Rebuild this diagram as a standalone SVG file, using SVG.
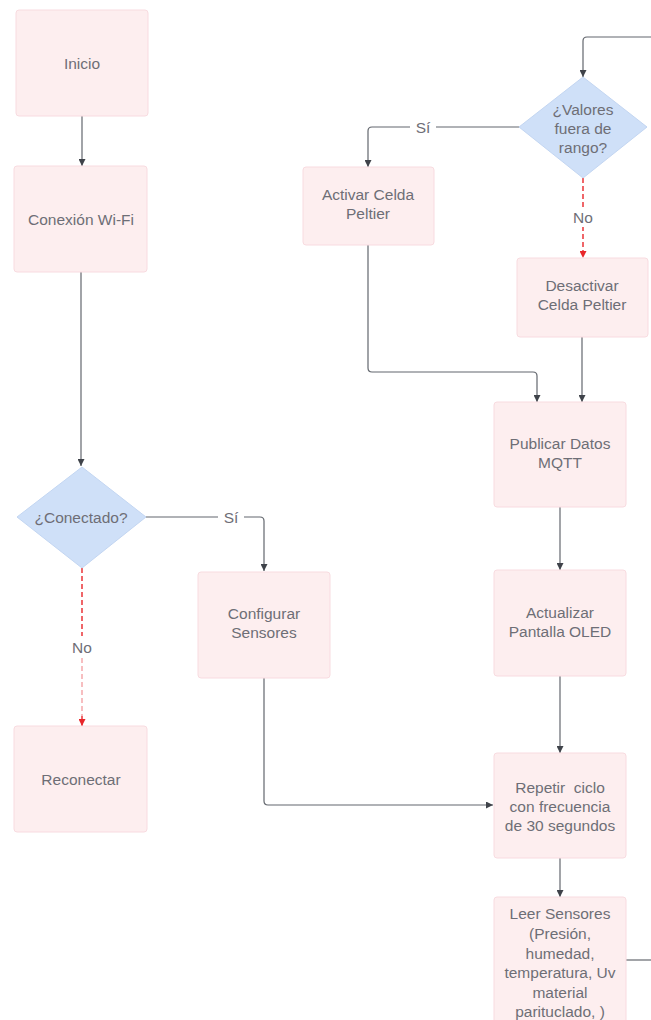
<svg xmlns="http://www.w3.org/2000/svg" width="651" height="1020" viewBox="0 0 651 1020">
  <style>
    .box { fill: #fdeeef; stroke: #f8dbe0; stroke-width: 1; }
    .dec { fill: #cfe0f8; stroke: #c3d6f2; stroke-width: 1; }
    .t { font-family: "Liberation Sans", Arial, sans-serif; font-size: 15.5px; fill: #6e6e76; text-anchor: middle; dominant-baseline: central; }
    .lbl { font-family: "Liberation Sans", Arial, sans-serif; font-size: 15.5px; fill: #6e6e76; text-anchor: middle; dominant-baseline: central; }
    .c { fill: none; stroke: #63676e; stroke-width: 1.2; }
    .no { fill: none; stroke: #e8262a; stroke-width: 1.4; stroke-dasharray: 5 3; }
    .nofade { fill: none; stroke: #f4a3a6; stroke-width: 1.4; stroke-dasharray: 5 3; }
  </style>
  <defs>
    <marker id="ah" viewBox="0 0 10 10" refX="10" refY="5" markerWidth="7" markerHeight="7" markerUnits="userSpaceOnUse" orient="auto">
      <path d="M0,0 L10,5 L0,10 z" fill="#3f434a"/>
    </marker>
    <marker id="ahr" viewBox="0 0 10 10" refX="10" refY="5" markerWidth="7" markerHeight="7" markerUnits="userSpaceOnUse" orient="auto">
      <path d="M0,0 L10,5 L0,10 z" fill="#e8262a"/>
    </marker>
  </defs>
  <rect width="651" height="1020" fill="#ffffff"/>

  <g id="connectors">
    <!-- left column -->
    <path class="c" d="M82,116 V166" marker-end="url(#ah)"/>
    <path class="c" d="M81,272 V466" marker-end="url(#ah)"/>
    <path class="c" d="M146,517 H260 Q264,517 264,521 V571" marker-end="url(#ah)"/>
    <path class="no" d="M82,568 V636"/>
    <path class="nofade" d="M82,658 V716"/>
    <path class="no" d="M82,716 V726" marker-end="url(#ahr)"/>
    <path class="c" d="M264,678 V801 Q264,805 268,805 H493" marker-end="url(#ah)"/>
    <!-- right column -->
    <path class="c" d="M651,37 H587 Q583,37 583,41 V77" marker-end="url(#ah)"/>
    <path class="c" d="M519,127 H372 Q368,127 368,131 V167" marker-end="url(#ah)"/>
    <path class="no" d="M583,178 V258" marker-end="url(#ahr)"/>
    <path class="c" d="M368,245 V368 Q368,372 372,372 H533 Q537,372 537,376 V402" marker-end="url(#ah)"/>
    <path class="c" d="M582,337 V402" marker-end="url(#ah)"/>
    <path class="c" d="M560,507 V570" marker-end="url(#ah)"/>
    <path class="c" d="M560,676 V753" marker-end="url(#ah)"/>
    <path class="c" d="M560,858 V897" marker-end="url(#ah)"/>
    <path class="c" d="M626,960 H651"/>
    <!-- labels -->
    <rect x="218" y="507" width="26" height="20" fill="#ffffff"/>
    <text class="lbl" x="231" y="517">Sí</text>
    <rect x="68" y="637" width="28" height="20" fill="#ffffff"/>
    <text class="lbl" x="82" y="647">No</text>
    <rect x="410" y="117" width="26" height="20" fill="#ffffff"/>
    <text class="lbl" x="423" y="127">Sí</text>
    <rect x="569" y="207" width="28" height="20" fill="#ffffff"/>
    <text class="lbl" x="583" y="217">No</text>
  </g>

  <g id="inicio">
    <rect class="box" x="16" y="10" width="132" height="106" rx="3"/>
    <text class="t" x="82" y="63">Inicio</text>
  </g>
  <g id="conexion-wifi">
    <rect class="box" x="14" y="166" width="133" height="106" rx="3"/>
    <text class="t" x="81" y="219">Conexión Wi-Fi</text>
  </g>
  <g id="conectado">
    <polygon class="dec" points="82,467 146,517 82,568 17,517"/>
    <text class="t" x="81" y="517">¿Conectado?</text>
  </g>
  <g id="reconectar">
    <rect class="box" x="14" y="726" width="133" height="106" rx="3"/>
    <text class="t" x="81" y="779">Reconectar</text>
  </g>
  <g id="configurar-sensores">
    <rect class="box" x="198" y="572" width="132" height="106" rx="3"/>
    <text class="t" x="264" y="613">Configurar</text>
    <text class="t" x="264" y="632">Sensores</text>
  </g>
  <g id="valores-fuera-de-rango">
    <polygon class="dec" points="583,77 647,127 583,178 519,127"/>
    <text class="t" x="583" y="109">¿Valores</text>
    <text class="t" x="583" y="128">fuera de</text>
    <text class="t" x="583" y="147">rango?</text>
  </g>
  <g id="activar-peltier">
    <rect class="box" x="303" y="167" width="131" height="78" rx="3"/>
    <text class="t" x="368" y="194">Activar Celda</text>
    <text class="t" x="368" y="213">Peltier</text>
  </g>
  <g id="desactivar-peltier">
    <rect class="box" x="517" y="258" width="131" height="79" rx="3"/>
    <text class="t" x="582" y="285">Desactivar</text>
    <text class="t" x="582" y="304">Celda Peltier</text>
  </g>
  <g id="publicar-mqtt">
    <rect class="box" x="494" y="402" width="132" height="105" rx="3"/>
    <text class="t" x="560" y="443">Publicar Datos</text>
    <text class="t" x="560" y="462">MQTT</text>
  </g>
  <g id="actualizar-oled">
    <rect class="box" x="494" y="570" width="132" height="106" rx="3"/>
    <text class="t" x="560" y="612">Actualizar</text>
    <text class="t" x="560" y="631">Pantalla OLED</text>
  </g>
  <g id="repetir-ciclo">
    <rect class="box" x="494" y="753" width="132" height="105" rx="3"/>
    <text class="t" x="560" y="787" xml:space="preserve">Repetir  ciclo</text>
    <text class="t" x="560" y="806">con frecuencia</text>
    <text class="t" x="560" y="825">de 30 segundos</text>
  </g>
  <g id="leer-sensores">
    <rect class="box" x="494" y="897" width="132" height="130" rx="3"/>
    <text class="t" x="560" y="913">Leer Sensores</text>
    <text class="t" x="560" y="933">(Presión,</text>
    <text class="t" x="560" y="953">humedad,</text>
    <text class="t" x="560" y="972">temperatura, Uv</text>
    <text class="t" x="560" y="992">material</text>
    <text class="t" x="560" y="1011">parituclado, )</text>
  </g>
</svg>
